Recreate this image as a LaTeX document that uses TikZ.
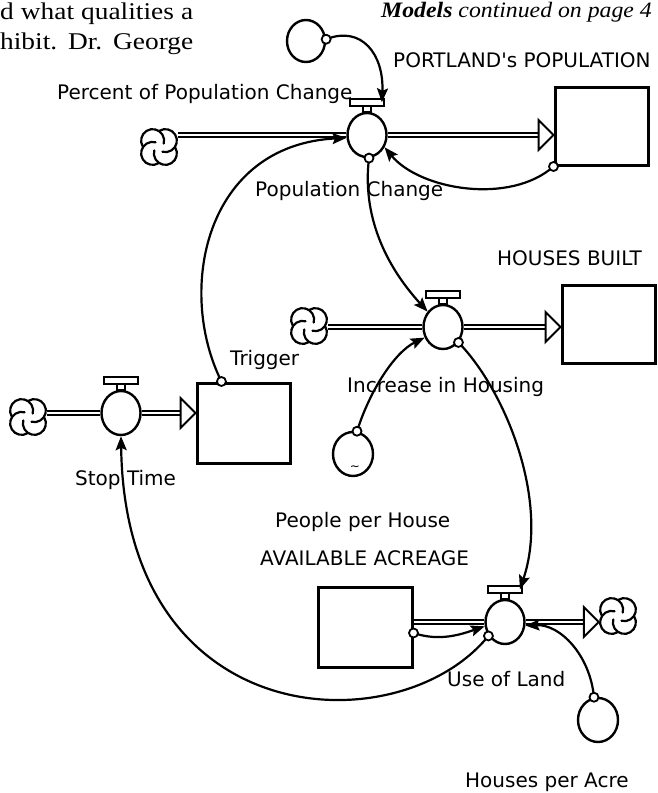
\documentclass[tikz,border=0pt]{standalone}
\usepackage{fontspec}
\usetikzlibrary{shapes.geometric,arrows.meta,calc}
\newfontfamily\lblfont{DejaVu Sans}
\newfontfamily\bodyfont[FakeStretch=1.14]{Liberation Serif}
\newfontfamily\notefont[FakeStretch=1.08]{Liberation Serif}

\begin{document}
\begin{tikzpicture}[x=1pt, y=-1pt,
  lbl/.style={font=\lblfont\fontsize{20pt}{24pt}\selectfont, anchor=base west, inner sep=0pt},
  stock/.style={draw, line width=3pt, rectangle, fill=white, minimum width=93pt, minimum height=78pt, inner sep=0pt},
  valve/.style={draw, line width=2.4pt, ellipse, fill=white, minimum width=39pt, minimum height=44pt, inner sep=0pt},
  conv/.style={draw, line width=2.4pt, ellipse, fill=white, minimum width=40pt, minimum height=44pt, inner sep=0pt},
  bar/.style={draw, line width=1.8pt, rectangle, fill=white, minimum width=34pt, minimum height=7pt, inner sep=0pt},
  stem/.style={draw, line width=1.8pt, fill=white},
  pipe/.style={line width=1.9pt, double=white, double distance=2.6pt},
  hollow/.style={draw, line width=2pt, fill=white, line join=miter},
  link/.style={line width=2.2pt, -{Stealth[length=14pt,width=11pt,inset=2.5pt]}},
  tap/.style={draw, circle, fill=white, line width=1.8pt, minimum size=9pt, inner sep=0pt},
  % four-lobed cloud; each lobe curls on into its neighbour
  pics/cloud/.style={code={
    \node[circle, minimum size=38pt, inner sep=0pt] (-c) {};
    \foreach \a in {45,135,225,315}
      \draw[line width=2.2pt, line cap=round, shift={(\a:9)}] (\a-77:11.5) arc[start angle=\a-77, end angle=\a+150, radius=11.5];
  }}
]
\useasboundingbox (0,0) rectangle (657,793);

% running text of the page
\node[anchor=base west, inner sep=0pt, font=\bodyfont\fontsize{24pt}{28pt}\selectfont] (body1) at (0,19) {\makebox[193pt][s]{d what qualities a}};
\node[anchor=base west, inner sep=0pt, font=\bodyfont\fontsize{24pt}{28pt}\selectfont] (body2) at (0,49) {\makebox[193pt][s]{hibit. Dr. George}};
\node[anchor=base east, inner sep=0pt, font=\notefont\fontsize{22pt}{26pt}\selectfont\itshape] (note) at (652,17) {\textbf{Models} continued on page 4};

% stocks
\node[stock] (s1) at (601.5,126) {};
\node[stock] (s2) at (608.5,324) {};
\node[stock, minimum height=80pt] (s3) at (243.5,423) {};
\node[stock, minimum width=94pt, minimum height=80pt] (s4) at (365,627) {};

% clouds
\pic (k1) at (159,147) {cloud};
\pic (k2) at (309,326) {cloud};
\pic (k3) at (28,417) {cloud};
\pic (k4) at (618,616) {cloud};

% valves
\node[valve] (v1) at (367,135) {};
\node[valve] (v2) at (443,327) {};
\node[valve] (v3) at (121,413) {};
\node[valve] (v4) at (505,622) {};

% flow pipes into valves
\foreach \src/\dst in {k1-c/v1, k2-c/v2, k3-c/v3, s4/v4}
  \draw[pipe] (\dst.west -| \src.east) -- (\dst.west);

% flow pipes out of valves, with open arrowheads
\foreach \src/\dst in {v1/s1, v2/s2, v3/s3, v4/k4-c} {
  \coordinate (tip) at (\src.east -| \dst.west);
  \draw[pipe] (\src.east) -- ($(tip)+(-15,0)$);
  \draw[hollow] ($(tip)+(-15,-15)$) -- (tip) -- ($(tip)+(-15,15)$) -- cycle;
}

% valve handles
\foreach \v in {v1,v2,v3,v4} {
  \draw[stem] ($(\v.north)+(-4,0)$) rectangle ($(\v.north)+(4,-7)$);
  \node[bar] (\v h) at ($(\v.north)+(0,-9.5)$) {};
}

% converters
\node[conv, minimum width=38pt, minimum height=42pt] (c1) at (306,41) {};
\node[conv] (c2) at (353,454) {};
\node[conv] (c3) at (598,720) {};
\node[inner sep=0pt, font=\lblfont\fontsize{12pt}{12pt}\selectfont] (c2t) at ($(c2.center)+(2,14)$) {\textasciitilde};

% information links
\draw[link] (c1.5) node[tap]{} .. controls (362,25) and (384,55) .. ($(v1h.east)+(-3,0)$);
\draw[link] (s1.south west) node[tap]{} .. controls (510,205) and (420,190) .. (v1.-35);
\draw[link] (v1.-85) node[tap]{} .. controls (362,215) and (385,265) .. (v2.135);
\draw[link] (s3.118) node[tap]{} .. controls (176,290) and (205,145) .. (v1.188);
\draw[link] (c2.80) node[tap]{} .. controls (370,390) and (395,352) .. (v2.210);
\draw[link] (v2.-45) node[tap]{} .. controls (505,390) and (550,500) .. ($(v4h.east)+(-3,0)$);
\draw[link] (s4.-7) node[tap]{} .. controls (440,642) and (462,634) .. (v4.192);
\draw[link] (v4.220) node[tap]{} .. controls (400,745) and (125,735) .. (v3.south);
\draw[link] (c3.100) node[tap]{} .. controls (590,655) and (560,624) .. (v4.-10);

% labels
\node[lbl] (lpc) at (57,99) {Percent of Population Change};
\node[lbl] (lpp) at (393,67) {PORTLAND\textquotesingle s POPULATION};
\node[lbl] (lpch) at (255,196) {Population Change};
\node[lbl] (lhb) at (497,265) {HOUSES BUILT};
\node[lbl] (ltr) at (230,365) {Trigger};
\node[lbl] (lih) at (347,392) {Increase in Housing};
\node[lbl] (lst) at (75,485) {Stop Time};
\node[lbl] (lpph) at (275,527) {People per House};
\node[lbl] (laa) at (260,565) {AVAILABLE ACREAGE};
\node[lbl] (lul) at (447,686) {Use of Land};
\node[lbl] (lhpa) at (465,787) {Houses per Acre};
\end{tikzpicture}
\end{document}
